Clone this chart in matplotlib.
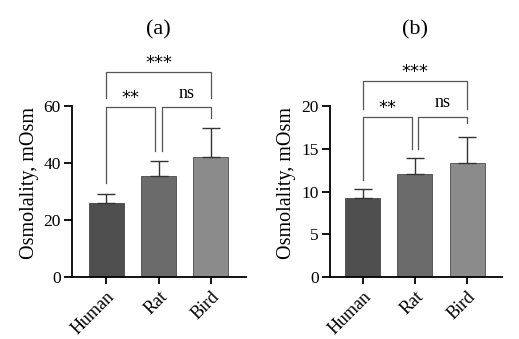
import matplotlib
matplotlib.use("Agg")
import matplotlib.pyplot as plt

plt.rcParams['font.family'] = ['Liberation Serif', 'DejaVu Serif']

categories = ["Human", "Rat", "Bird"]
means_a = [25.9, 35.5, 42.2]
errs_a = [3.3, 5.1, 10.1]
means_b = [9.2, 12.1, 13.3]
errs_b = [1.1, 1.8, 3.1]
yticks_a = [0, 20, 40, 60]
yticks_b = [0, 5, 10, 15, 20]
colors = ["#4f4f4f", "#6b6b6b", "#8b8b8b"]

# brackets: (x1, x2, top, left leg bottom, right leg bottom, label)
brackets_a = [
    (0, 0.94, 59.6, 32.9, 44.3, "**"),
    (1.06, 2, 59.6, 44.3, 55.9, "ns"),
    (0, 2, 71.9, 62.7, 62.7, "***"),
]
brackets_b = [
    (0, 0.94, 18.75, 11.4, 15.0, "**"),
    (1.06, 2, 18.75, 15.0, 18.0, "ns"),
    (0, 2, 22.9, 19.7, 19.7, "***"),
]

W, H = 519, 339
fig = plt.figure(figsize=(W / 100, H / 100), dpi=100)
ax_a = fig.add_axes([72 / W, 1 - 277 / H, 174 / W, 171 / H])
ax_b = fig.add_axes([329.7 / W, 1 - 277 / H, 172 / W, 171 / H])


def draw(ax, means, errs, yticks, brackets, xlim, lab_x):
    x = list(range(len(categories)))
    ax.bar(x, means, width=0.667, color=colors, edgecolor="#333333", linewidth=0.5, zorder=2)
    ax.errorbar(x, means, yerr=[[0] * len(errs), errs], fmt="none", ecolor="#333333",
                elinewidth=1.0, capsize=6.5, capthick=1.0, zorder=3)
    ax.set_xlim(*xlim)
    ax.set_ylim(yticks[0], yticks[-1])
    ax.set_yticks(yticks)
    ax.set_xticks(x)
    ax.set_xticklabels(categories, rotation=45, ha="right", rotation_mode="anchor", fontsize=13)
    ax.tick_params(axis="y", labelsize=12.5, length=6, width=1.3, direction="out", pad=2)
    ax.tick_params(axis="x", length=5, width=1.3, direction="out", pad=3)
    for s in ["top", "right"]:
        ax.spines[s].set_visible(False)
    ax.spines["left"].set_linewidth(1.3)
    ax.spines["bottom"].set_linewidth(1.3)
    ax.set_ylabel("Osmolality, mOsm", fontsize=14.5)
    ax.yaxis.set_label_coords(lab_x, 0.55)
    for x1, x2, top, lb, rb, lab in brackets:
        ax.plot([x1, x1, x2, x2], [lb, top, top, rb], color="#555555", lw=0.9,
                clip_on=False, zorder=4)
        if lab == "ns":
            ax.annotate(lab, ((x1 + x2) / 2, top), xytext=(0, 14), textcoords="offset pixels",
                        ha="center", va="center", fontsize=13, annotation_clip=False)
        else:
            ax.annotate(lab, ((x1 + x2) / 2, top), xytext=(0, 9), textcoords="offset pixels",
                        ha="center", va="center", fontsize=13,
                        family="DejaVu Sans", annotation_clip=False)


draw(ax_a, means_a, errs_a, yticks_a, brackets_a, (-0.648, 2.667), -0.192)
draw(ax_b, means_b, errs_b, yticks_b, brackets_b, (-0.627, 2.66), -0.197)

fig.text((106 + 211) / 2 / W, 1 - 30 / H, "(a)", ha="center", va="center", fontsize=16)
fig.text((362.5 + 467) / 2 / W, 1 - 30 / H, "(b)", ha="center", va="center", fontsize=16)

fig.savefig("out.png", dpi=100)
